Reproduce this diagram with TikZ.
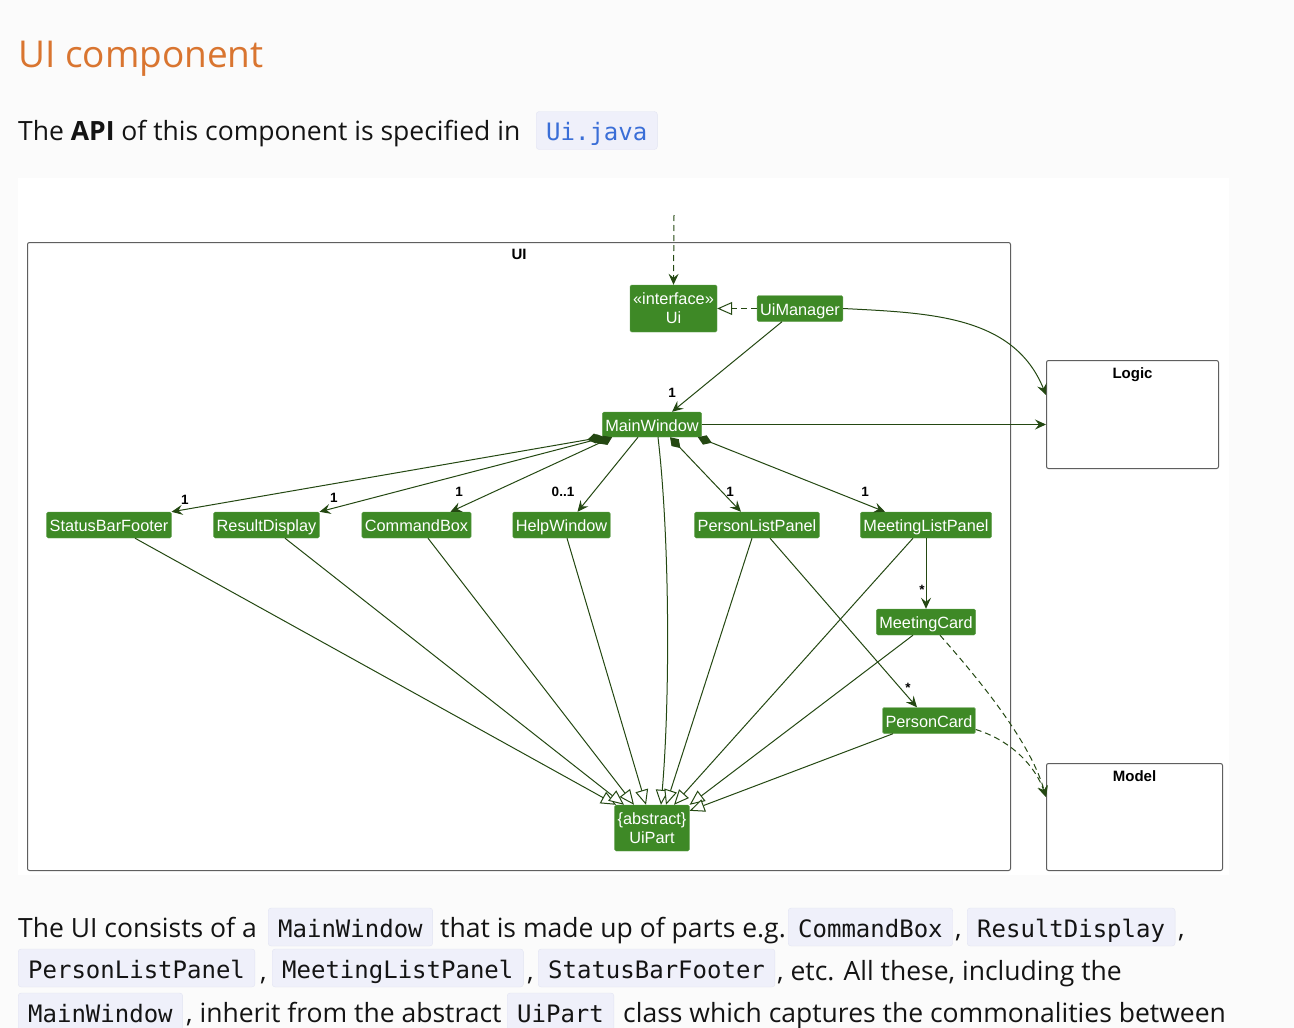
\documentclass[tikz,border=0pt]{standalone}
\usepackage{fontspec}
\setmainfont{Open Sans}
\setsansfont{Liberation Sans}
\setmonofont{DejaVu Sans Mono}
\usepackage{tikz}
\usetikzlibrary{arrows.meta, positioning, calc}
\definecolor{page}{RGB}{251,251,251}
\definecolor{heading}{RGB}{217,117,48}
\definecolor{ink}{RGB}{20,20,20}
\definecolor{umlgreen}{RGB}{62,137,38}
\definecolor{umlline}{RGB}{36,72,18}
\definecolor{framegray}{RGB}{95,95,95}
\definecolor{codebg}{RGB}{239,240,250}
\definecolor{codeedge}{RGB}{226,228,242}
\definecolor{linkblue}{RGB}{58,110,215}
\tikzset{
  cls/.style={rectangle, draw=umlgreen!80!white, fill=umlgreen, rounded corners=1.5pt,
              text=white, align=center, inner xsep=3pt, inner ysep=0pt, minimum height=26pt,
              text height=14pt, text depth=1pt,
              font=\sffamily\fontsize{16.3}{19}\selectfont},
  pkg/.style={rectangle, draw=framegray, rounded corners=2pt, line width=1pt, anchor=north west},
  pkglabel/.style={font=\sffamily\bfseries\fontsize{15}{16}\selectfont, inner sep=0pt, anchor=north},
  mult/.style={font=\sffamily\bfseries\fontsize{13.5}{14}\selectfont, inner sep=0pt},
  para/.style={anchor=base west, inner sep=0pt, text=ink, font=\fontsize{26.5}{30}\selectfont},
  code/.style={rectangle, anchor=west, draw=codeedge, fill=codebg, rounded corners=3pt,
               inner xsep=10pt, text height=22pt, text depth=2pt, minimum height=38pt,
               text=ink, font=\ttfamily\fontsize{24}{24}\selectfont},
  tip/.style={-{Stealth[length=11pt,width=10pt,inset=4pt]}},
  assoc/.style={tip, umlline, line width=1pt},
  dep/.style={tip, umlline, line width=1pt, dash pattern=on 6pt off 4pt},
  comp/.style={{Diamond[length=15pt,width=10pt]}-{Stealth[length=11pt,width=10pt,inset=4pt]},
               umlline, line width=1pt},
  inh/.style={-{Triangle[open,length=15pt,width=13pt,fill=white]}, umlline, line width=1pt},
  real/.style={inh, dash pattern=on 6pt off 4pt}
}
\begin{document}
\begin{tikzpicture}[x=1pt, y=-1pt]
  \useasboundingbox (0,0) rectangle (1294,1028);
  \fill[page] (0,0) rectangle (1294,1028);
  \fill[white] (18,178) rectangle (1229,875);

  % page text above
  \node[anchor=base west, inner sep=0pt, text=heading, font=\fontsize{37}{40}\selectfont] (title) at (18,67) {UI component};
  \node[para] (api) at (18,140) {The \textbf{API} of this component is specified in};
  \node[code, text=linkblue] (uijava) at (536,130.5) {Ui.java};

  % packages
  \node[pkg, minimum width=983pt, minimum height=628pt] (uifr) at (27,242) {};
  \node[pkglabel, below=7pt of uifr.north] (uilbl) {UI};
  \node[pkg, minimum width=172pt, minimum height=108pt] (logic) at (1046,360) {};
  \node[pkglabel, below=7pt of logic.north] (logiclbl) {Logic};
  \node[pkg, minimum width=176pt, minimum height=107pt] (model) at (1046,763) {};
  \node[pkglabel, below=7pt of model.north] (modellbl) {Model};

  % classes
  \node[cls, text height=, text depth=, minimum width=87pt, minimum height=47pt] (ui) at (673.5,308.5) {«interface»\\Ui};
  \node[cls] (mgr) at (800,308.5) {UiManager};
  \node[cls, minimum height=25pt] (mw) at (652,424.5) {MainWindow};
  \node[cls] (sbf) at (109,525) {StatusBarFooter};
  \node[cls] (rd) at (266.5,525) {ResultDisplay};
  \node[cls] (cb) at (416.5,525) {CommandBox};
  \node[cls] (hw) at (561.5,525) {HelpWindow};
  \node[cls] (plp) at (757,525) {PersonListPanel};
  \node[cls] (mlp) at (926,525) {MeetingListPanel};
  \node[cls] (mc) at (926,622) {MeetingCard};
  \node[cls] (pc) at (929,720.5) {PersonCard};
  \node[cls, text height=, text depth=, minimum height=46pt] (part) at (652,828) {\{abstract\}\\UiPart};

  \coordinate (ext) at (674,215);
  \draw[dep] (ext) -- (ui.north);
  \draw[real] (mgr.west) -- (ui.east);
  \draw[assoc] ([xshift=-18pt]mgr.south) -- ([xshift=20pt]mw.north);
  \draw[assoc] (mw.east) -- (mw.east -| logic.west);
  \draw[assoc] (mgr.east) to[out=-3, in=112] ([yshift=-35pt]logic.north west);

  \draw[comp] (mw.south west) -- (sbf.north east);
  \draw[comp] ([xshift=3pt]mw.south west) -- (rd.north east);
  \draw[comp] ([xshift=10pt]mw.south west) -- ([xshift=34pt]cb.north);
  \draw[assoc] ([xshift=-14pt]mw.south) -- ([xshift=16pt]hw.north);
  \draw[comp] ([xshift=18pt]mw.south) -- ([xshift=-16pt]plp.north);
  \draw[comp] ([xshift=-4pt]mw.south east) -- ([xshift=-41pt]mlp.north);
  \draw[assoc] (mlp.south) -- (mc.north);
  \draw[assoc] ([xshift=13pt]plp.south) -- ([xshift=-12pt]pc.north);

  \draw[dep] ([xshift=14pt]mc.south) .. controls (975,675) and (1030,740) .. ([yshift=-34pt]model.north west);
  \draw[dep] ([yshift=-9pt]pc.east) .. controls (1010,740) and (1035,765) .. ([yshift=-34pt]model.north west);

  % inheritance
  \draw[inh] ([xshift=26pt]sbf.south) -- ([xshift=-36pt]part.north);
  \draw[inh] ([xshift=18.5pt]rd.south) -- ([xshift=-28pt]part.north);
  \draw[inh] ([xshift=11.5pt]cb.south) -- ([xshift=-18pt]part.north);
  \draw[inh] ([xshift=5.5pt]hw.south) -- ([xshift=-6pt]part.north);
  \draw[inh] ([xshift=6pt]mw.south) .. controls (670,540) and (670,700) .. ([xshift=9pt]part.north);
  \draw[inh] ([xshift=-5pt]plp.south) -- ([xshift=14pt]part.north);
  \draw[inh] ([xshift=-13pt]mlp.south) -- ([xshift=22pt]part.north);
  \draw[inh] ([xshift=-13pt]mc.south) -- (part.north east);
  \draw[inh] ([xshift=-36pt]pc.south) -- ([yshift=-6pt]part.north east);

  % multiplicities
  \node[mult] (m1) at (672,393) {1};
  \node[mult] (m2) at (185,500) {1};
  \node[mult] (m3) at (334,498) {1};
  \node[mult] (m4) at (459,492) {1};
  \node[mult] (m5) at (563,492) {0..1};
  \node[mult] (m6) at (730,492) {1};
  \node[mult] (m7) at (865,492) {1};
  \node[mult] (m8) at (922,590) {*};
  \node[mult] (m9) at (908,688) {*};

  % page text below
  \node[para] (l1a) at (18,937) {The UI consists of a};
  \node[code] (l1b) at (268,927) {MainWindow};
  \node[para] (l1c) at (440,937) {that is made up of parts e.g.};
  \node[code] (l1d) at (788,927) {CommandBox};
  \node[para] (l1e) at (955,937) {,};
  \node[code] (l1f) at (967,927) {ResultDisplay};
  \node[para] (l1g) at (1178,937) {,};
  \node[code] (l2a) at (18,968) {PersonListPanel};
  \node[para] (l2b) at (260,980) {,};
  \node[code] (l2c) at (272,968) {MeetingListPanel};
  \node[para] (l2d) at (527,980) {,};
  \node[code] (l2e) at (538,968) {StatusBarFooter};
  \node[para] (l2f) at (777,980) {, etc. All these, including the};
  \node[code] (l3a) at (18,1012) {MainWindow};
  \node[para] (l3b) at (186,1022) {, inherit from the abstract};
  \node[code] (l3c) at (507,1012) {UiPart};
  \node[para] (l3d) at (623,1022) {class which captures the commonalities between};
\end{tikzpicture}
\end{document}
